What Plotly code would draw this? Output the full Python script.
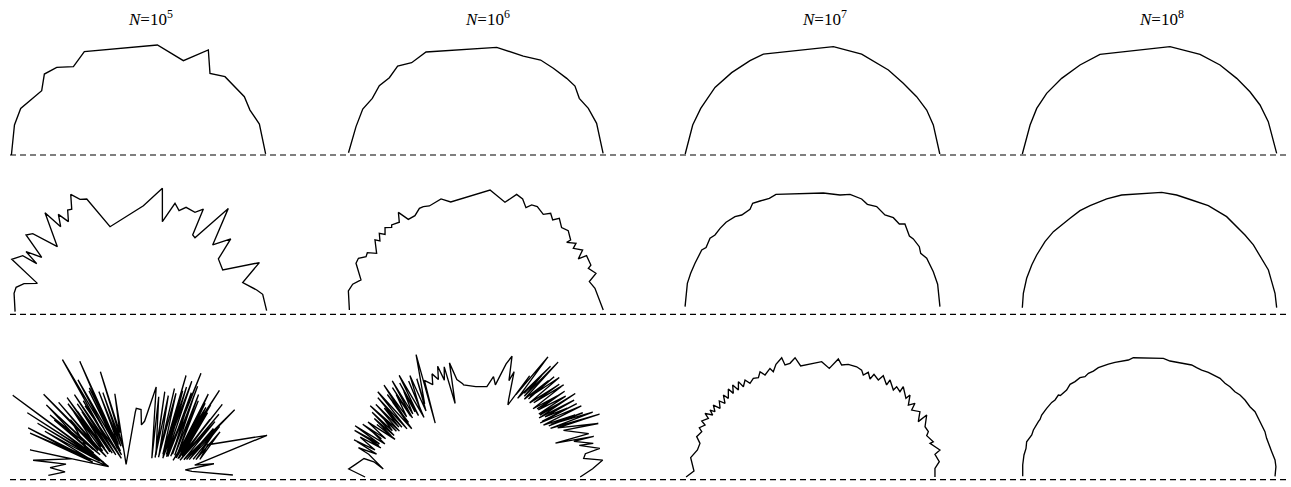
import numpy as np
import plotly.graph_objects as go

# ---------------- data (curve vertices, radius-normalised units) ----------------
TITLES = ["<i>N</i>=10<sup>5</sup>", "<i>N</i>=10<sup>6</sup>",
          "<i>N</i>=10<sup>7</sup>", "<i>N</i>=10<sup>8</sup>"]

# Row 1
R1C1_X = [-1.00, -0.976, -0.927, -0.762, -0.741, -0.644, -0.513, -0.427, 0.147, 0.351,
          0.547, 0.560, 0.678, 0.830, 0.874, 0.948, 0.997]
R1C1_Y = [0.0, 0.236, 0.366, 0.505, 0.636, 0.688, 0.694, 0.812, 0.864, 0.741,
          0.825, 0.641, 0.615, 0.458, 0.353, 0.243, 0.008]
R1C2_X = [-1.00, -0.941, -0.888, -0.813, -0.758, -0.679, -0.614, -0.504, -0.391, 0.164,
          0.373, 0.509, 0.609, 0.714, 0.779, 0.813, 0.884, 0.949, 1.00]
R1C2_Y = [0.018, 0.223, 0.361, 0.445, 0.545, 0.607, 0.699, 0.725, 0.809, 0.846,
          0.777, 0.746, 0.681, 0.602, 0.542, 0.445, 0.366, 0.249, 0.013]
R1C3_X = [-1.00, -0.941, -0.878, -0.766, -0.635, -0.491, -0.386, 0.164, 0.386, 0.596,
          0.713, 0.818, 0.897, 0.949, 1.00]
R1C3_Y = [0.008, 0.236, 0.366, 0.531, 0.647, 0.741, 0.793, 0.851, 0.793, 0.668,
          0.563, 0.458, 0.353, 0.236, 0.008]
R1C4_X = [-0.999, -0.938, -0.886, -0.808, -0.690, -0.546, -0.389, 0.161, 0.397, 0.554,
          0.685, 0.789, 0.868, 0.933, 0.999]
R1C4_Y = [0.008, 0.236, 0.366, 0.484, 0.602, 0.707, 0.791, 0.851, 0.791, 0.707,
          0.602, 0.497, 0.393, 0.262, 0.013]

# Row 2
R2C1_X = [-0.971, -0.979, -0.963, -0.901, -0.796, -0.997, -0.911, -0.801, -0.885, -0.762,
          -0.885, -0.832, -0.639, -0.736, -0.613, -0.631, -0.552, -0.558, -0.526, -0.534,
          -0.461, -0.408, -0.225, 0.037, 0.186, 0.186, 0.285, 0.317, 0.372, 0.442,
          0.508, 0.424, 0.442, 0.704, 0.581, 0.723, 0.626, 0.660, 0.948, 0.817,
          0.927, 0.974, 1.005]
R2C1_Y = [0.021, 0.165, 0.212, 0.241, 0.243, 0.432, 0.461, 0.398, 0.492, 0.448,
          0.623, 0.634, 0.531, 0.798, 0.688, 0.785, 0.728, 0.819, 0.825, 0.942,
          0.903, 0.906, 0.688, 0.853, 0.990, 0.728, 0.872, 0.814, 0.840, 0.801,
          0.827, 0.623, 0.602, 0.832, 0.545, 0.592, 0.435, 0.348, 0.406, 0.249,
          0.191, 0.157, 0.029]
R2C2_X = [-0.993, -1.001, -0.967, -0.902, -0.941, -0.922, -0.862, -0.852, -0.779, -0.792,
          -0.753, -0.758, -0.713, -0.713, -0.661, -0.661, -0.601, -0.608, -0.530, -0.478,
          -0.443, -0.412, -0.365, -0.273, -0.197, 0.112, 0.229, 0.321, 0.368, 0.394,
          0.439, 0.483, 0.530, 0.588, 0.604, 0.656, 0.674, 0.726, 0.745, 0.714,
          0.787, 0.766, 0.839, 0.805, 0.870, 0.904, 0.884, 0.944, 0.892, 0.936, 1.001]
R2C2_Y = [0.034, 0.183, 0.236, 0.270, 0.401, 0.440, 0.453, 0.484, 0.479, 0.584,
          0.576, 0.636, 0.628, 0.681, 0.683, 0.702, 0.723, 0.801, 0.746, 0.775,
          0.832, 0.846, 0.851, 0.906, 0.882, 0.976, 0.880, 0.942, 0.906, 0.838,
          0.859, 0.846, 0.785, 0.793, 0.741, 0.754, 0.681, 0.657, 0.584, 0.565,
          0.558, 0.518, 0.505, 0.435, 0.461, 0.387, 0.361, 0.322, 0.257, 0.204, 0.034]
R2C3_X = [-1.001, -0.983, -0.957, -0.923, -0.870, -0.836, -0.805, -0.766, -0.726, -0.679,
          -0.609, -0.556, -0.491, -0.470, -0.412, -0.339, -0.287, 0.085, 0.216, 0.295,
          0.386, 0.431, 0.504, 0.569, 0.635, 0.682, 0.726, 0.761, 0.792, 0.839,
          0.850, 0.897, 0.949, 0.983, 1.001]
R2C3_Y = [0.060, 0.243, 0.322, 0.401, 0.505, 0.524, 0.597, 0.623, 0.675, 0.723,
          0.767, 0.780, 0.825, 0.872, 0.890, 0.911, 0.942, 0.953, 0.937, 0.942,
          0.906, 0.864, 0.846, 0.780, 0.759, 0.709, 0.709, 0.615, 0.592, 0.531,
          0.479, 0.440, 0.335, 0.236, 0.060]
R2C4_X = [-0.999, -0.991, -0.965, -0.925, -0.886, -0.821, -0.755, -0.677, -0.624, -0.546,
          -0.467, -0.336, -0.219, 0.096, 0.213, 0.331, 0.462, 0.606, 0.685, 0.750,
          0.816, 0.881, 0.934, 0.960, 0.986, 0.999]
R2C4_Y = [0.052, 0.165, 0.283, 0.387, 0.466, 0.571, 0.649, 0.715, 0.754, 0.814,
          0.853, 0.906, 0.937, 0.958, 0.937, 0.898, 0.853, 0.767, 0.688, 0.623,
          0.545, 0.440, 0.348, 0.257, 0.165, 0.052]

# Row 3: the two noisiest panels are read as (angle [deg], radius) vertex pairs
R3C1_ANGLE_RADIUS = [
    (179, 0.71), (176, 0.58), (174, 0.70), (170, 0.58), (171, 0.84), (165, 0.55),
    (166, 0.88), (161, 0.25), (158, 0.92), (162, 0.38), (156, 0.95), (160, 0.40),
    (154, 0.82), (158, 0.33), (152, 0.90), (157, 0.30), (150, 1.01), (155, 0.35),
    (147, 1.18), (161, 0.25), (146, 0.80), (152, 0.40), (145, 0.85), (150, 0.35),
    (143, 0.78), (149, 0.42), (142, 0.92), (152, 0.45), (140, 0.70), (147, 0.38),
    (139, 0.99), (148, 0.30), (138, 0.75), (146, 0.32), (137, 0.86), (145, 0.40),
    (135, 0.72), (144, 0.35), (134, 0.80), (143, 0.30), (133, 0.70), (141, 0.38),
    (132, 0.84), (140, 0.35), (131, 0.68), (139, 0.30), (130, 0.75), (138, 0.28),
    (129, 0.66), (137, 0.32), (128, 0.82), (136, 0.25), (126, 0.74), (134, 0.30),
    (123, 1.10), (133, 0.20), (127, 0.70), (130, 0.30), (122, 0.90), (128, 0.22),
    (120, 0.78), (127, 0.28), (117, 1.02), (125, 0.25), (119, 0.80), (122, 0.30),
    (115, 0.74), (120, 0.28), (113, 0.72), (118, 0.25), (110, 0.88), (113, 0.38),
    (106, 0.68), (135, 0.14), (93, 0.51), (92, 0.54), (88, 0.53), (87, 0.41),
    (84, 0.44), (79, 0.72), (55, 0.18), (76, 0.65), (52, 0.22), (73, 0.70),
    (50, 0.20), (70, 0.68), (48, 0.24), (68, 0.75), (45, 0.22), (66, 0.72),
    (43, 0.26), (65, 0.88), (40, 0.25), (63, 0.76), (39, 0.28), (62, 0.80),
    (38, 0.24), (61, 0.86), (36, 0.27), (59, 0.95), (35, 0.28), (58, 0.78),
    (34, 0.32), (57, 0.85), (33, 0.30), (55, 0.74), (31, 0.33), (54, 0.80),
    (30, 0.35), (52, 0.76), (29, 0.34), (50, 0.85), (28, 0.37), (48, 0.78),
    (27, 0.33), (47, 0.93), (26, 0.30), (46, 0.76), (25, 0.34), (45, 0.80),
    (25, 0.35), (43, 0.74), (26, 0.38), (41, 0.87), (28, 0.40), (39, 0.72),
    (24, 0.37), (38, 0.80), (22, 0.35), (36, 0.74), (21, 0.38), (35, 0.92),
    (20, 0.40), (33, 0.70), (19, 0.42), (32, 0.75), (18, 0.45), (30, 0.68),
    (17, 0.47), (29, 0.73), (16, 0.50), (25, 0.60), (18, 1.06), (12, 0.45),
    (10, 0.60), (8.6, 0.37), (6, 0.42), (1.2, 0.74)]

R3C2_ANGLE_RADIUS = [
    (180, 0.87), (176.4, 1.00), (174, 0.95), (170.6, 0.89), (171.5, 0.81), (175, 0.73),
    (168, 0.86), (166, 0.95), (167, 0.80), (163, 1.00), (165, 0.82), (161, 0.96),
    (163, 0.78), (160, 0.92), (162, 0.80), (159, 1.02), (161, 0.80), (157, 1.03),
    (160, 0.76), (156, 0.90), (158, 0.80), (155, 0.98), (157, 0.77), (153, 0.95),
    (155, 0.70), (152, 0.88), (154, 0.74), (150, 0.92), (153, 0.72), (148, 0.96),
    (151, 0.75), (147, 0.88), (150, 0.72), (146, 1.00), (149, 0.70), (144, 0.97),
    (147, 0.72), (143, 0.90), (146, 0.70), (141, 0.99), (145, 0.66), (139, 1.02),
    (143, 0.63), (138, 0.88), (141, 0.68), (137, 0.95), (141, 0.70), (135, 1.02),
    (139, 0.72), (134, 0.90), (137, 0.70), (133, 0.96), (137, 0.68), (131, 1.00),
    (135, 0.70), (130, 0.88), (133, 0.70), (129, 0.95), (133, 0.66), (127, 1.00),
    (131, 0.62), (125, 0.92), (129, 0.70), (123, 0.95), (127, 0.65), (121, 0.90),
    (125, 0.70), (116, 1.07), (127, 0.53), (118, 0.86), (115, 0.80), (113, 0.88),
    (111, 0.82), (109, 0.92), (108, 0.80), (106, 0.90), (105.7, 0.60), (103, 0.92),
    (101, 0.78), (98, 0.74), (97.6, 0.73), (90, 0.71), (83, 0.715), (80, 0.80),
    (78, 0.74), (75, 0.92), (73.3, 0.99), (71, 0.80), (70, 0.88), (67, 0.66),
    (66, 0.62), (62, 0.90), (64, 0.72), (59, 1.10), (62, 0.70), (56, 1.05),
    (60, 0.76), (57, 0.95), (59, 0.74), (54.4, 1.11), (58, 0.72), (53, 0.95),
    (56, 0.74), (52, 1.00), (56, 0.76), (50, 1.02), (54, 0.72), (49, 0.92),
    (52, 0.74), (48, 0.98), (52, 0.74), (46.4, 1.00), (50, 0.70), (45, 0.90),
    (48, 0.72), (44, 0.97), (47, 0.72), (42, 0.95), (45, 0.70), (41, 0.90),
    (44, 0.70), (40, 1.02), (43, 0.68), (38, 0.98), (41, 0.72), (37, 0.90),
    (40, 0.68), (36, 0.98), (40, 0.66), (34, 1.00), (37.5, 0.67), (32, 0.92),
    (35, 0.70), (31, 0.98), (35, 0.72), (29, 1.05), (33, 0.70), (26.9, 1.09),
    (31, 0.75), (23.6, 1.05), (28, 0.78), (21, 0.95), (23, 0.68), (19, 0.98),
    (20, 0.82), (16, 0.96), (17, 0.85), (13, 1.00), (12, 0.88), (9.8, 0.86),
    (7.6, 1.006), (4, 0.92), (0, 0.82)]

R3C3_X = [-0.993, -0.931, -0.957, -0.904, -0.884, -0.910, -0.870, -0.889, -0.844, -0.870,
          -0.818, -0.844, -0.784, -0.805, -0.766, -0.779, -0.726, -0.732, -0.687, -0.700,
          -0.661, -0.661, -0.622, -0.627, -0.582, -0.582, -0.543, -0.530, -0.491, -0.465,
          -0.425, -0.412, -0.373, -0.334, -0.308, -0.287, -0.242, -0.216, -0.177, -0.137,
          -0.093, 0.072, 0.132, 0.203, 0.229, 0.281, 0.347, 0.386, 0.399, 0.438,
          0.452, 0.483, 0.517, 0.556, 0.582, 0.609, 0.635, 0.661, 0.687, 0.713,
          0.734, 0.766, 0.753, 0.805, 0.779, 0.844, 0.831, 0.897, 0.884, 0.910,
          0.897, 0.949, 0.923, 1.001, 0.962, 0.996, 0.962, 0.962]
R3C3_Y = [0.0, 0.047, 0.152, 0.212, 0.264, 0.317, 0.356, 0.387, 0.408, 0.440,
          0.461, 0.500, 0.487, 0.526, 0.513, 0.565, 0.539, 0.597, 0.579, 0.644,
          0.618, 0.691, 0.657, 0.723, 0.683, 0.749, 0.709, 0.762, 0.736, 0.775,
          0.780, 0.827, 0.801, 0.853, 0.827, 0.885, 0.937, 0.880, 0.893, 0.937,
          0.872, 0.906, 0.853, 0.927, 0.880, 0.885, 0.866, 0.840, 0.801, 0.822,
          0.770, 0.806, 0.762, 0.796, 0.723, 0.762, 0.683, 0.709, 0.670, 0.709,
          0.618, 0.644, 0.565, 0.579, 0.526, 0.513, 0.435, 0.487, 0.395, 0.356,
          0.325, 0.277, 0.264, 0.212, 0.178, 0.120, 0.068, 0.0]
R3C4_X = [-0.996, -0.996, -0.986, -0.975, -0.970, -0.965, -0.939, -0.925, -0.912, -0.891,
          -0.873, -0.860, -0.847, -0.808, -0.768, -0.742, -0.716, -0.700, -0.690, -0.651,
          -0.624, -0.585, -0.546, -0.507, -0.480, -0.441, -0.402, -0.363, -0.323, -0.271,
          -0.219, -0.166, -0.127, 0.109, 0.161, 0.226, 0.279, 0.331, 0.370, 0.410,
          0.462, 0.514, 0.554, 0.593, 0.632, 0.671, 0.711, 0.750, 0.789, 0.829,
          0.855, 0.881, 0.907, 0.920, 0.933, 0.945, 0.960, 0.986, 0.993, 0.986]
R3C4_Y = [0.005, 0.094, 0.173, 0.200, 0.225, 0.277, 0.317, 0.330, 0.369, 0.408,
          0.435, 0.452, 0.487, 0.539, 0.586, 0.605, 0.644, 0.640, 0.649, 0.683,
          0.728, 0.749, 0.780, 0.788, 0.814, 0.832, 0.859, 0.874, 0.887, 0.901,
          0.911, 0.919, 0.937, 0.932, 0.911, 0.901, 0.893, 0.880, 0.859, 0.840,
          0.822, 0.796, 0.775, 0.736, 0.709, 0.670, 0.644, 0.605, 0.552, 0.513,
          0.461, 0.408, 0.356, 0.304, 0.264, 0.240, 0.199, 0.134, 0.081, 0.005]

BASELINE = [0.0, 0.0, -0.02]   # dashed reference line level per row


def polar_to_xy(pairs):
    ang = np.deg2rad(np.array([p[0] for p in pairs], dtype=float))
    rad = np.array([p[1] for p in pairs], dtype=float)
    return rad * np.cos(ang), rad * np.sin(ang)


PANELS = [
    [(R1C1_X, R1C1_Y), (R1C2_X, R1C2_Y), (R1C3_X, R1C3_Y), (R1C4_X, R1C4_Y)],
    [(R2C1_X, R2C1_Y), (R2C2_X, R2C2_Y), (R2C3_X, R2C3_Y), (R2C4_X, R2C4_Y)],
    [polar_to_xy(R3C1_ANGLE_RADIUS), polar_to_xy(R3C2_ANGLE_RADIUS),
     (R3C3_X, R3C3_Y), (R3C4_X, R3C4_Y)],
]

# ---------------- layout (pixels) ----------------
W, H = 1291, 487
COL_CX = [138.7, 475.8, 812.5, 1149.5]
ROW_BASE = [155.0, 314.3, 477.0]
UNIT = 127.3          # pixels per unit radius
HALF_W = 135.0
Y_LO, Y_HI = -0.05, 1.04
TITLE_X = [150, 487, 824, 1161]
TITLE_Y = 18

fig = go.Figure()
layout_axes = {}
shapes = []
for r in range(3):
    for c in range(4):
        idx = r * 4 + c + 1
        sfx = "" if idx == 1 else str(idx)
        x, y = PANELS[r][c]
        assert len(x) == len(y)
        fig.add_trace(go.Scatter(
            x=list(x), y=list(y), mode="lines",
            line=dict(color="black", width=1.35),
            xaxis="x" + sfx, yaxis="y" + sfx,
            hoverinfo="skip", showlegend=False))
        cx = COL_CX[c]
        b = ROW_BASE[r]
        layout_axes["xaxis" + sfx] = dict(
            domain=[(cx - HALF_W) / W, (cx + HALF_W) / W],
            range=[-HALF_W / UNIT, HALF_W / UNIT],
            visible=False, fixedrange=True, anchor="y" + sfx)
        layout_axes["yaxis" + sfx] = dict(
            domain=[1 - (b - Y_LO * UNIT) / H, 1 - (b - Y_HI * UNIT) / H],
            range=[Y_LO, Y_HI], visible=False, fixedrange=True, anchor="x" + sfx)
    ysfx = "" if r == 0 else str(r * 4 + 1)
    shapes.append(dict(
        type="line", xref="paper", yref="y" + ysfx,
        x0=10 / W, x1=1287 / W, y0=BASELINE[r], y1=BASELINE[r],
        line=dict(color="black", width=1.2, dash="6px,4px")))

annotations = []
for c in range(4):
    annotations.append(dict(
        text=TITLES[c], xref="paper", yref="paper",
        x=TITLE_X[c] / W, y=1 - TITLE_Y / H, xanchor="center", yanchor="middle",
        showarrow=False, font=dict(family="Liberation Serif, Times New Roman, serif",
                                   size=17, color="black")))

fig.update_layout(
    width=W, height=H, margin=dict(l=0, r=0, t=0, b=0),
    paper_bgcolor="white", plot_bgcolor="white",
    shapes=shapes, annotations=annotations, showlegend=False,
    **layout_axes)

fig.write_html("out.html", config={"displayModeBar": False},
               post_script="document.body.style.margin='0px';")
